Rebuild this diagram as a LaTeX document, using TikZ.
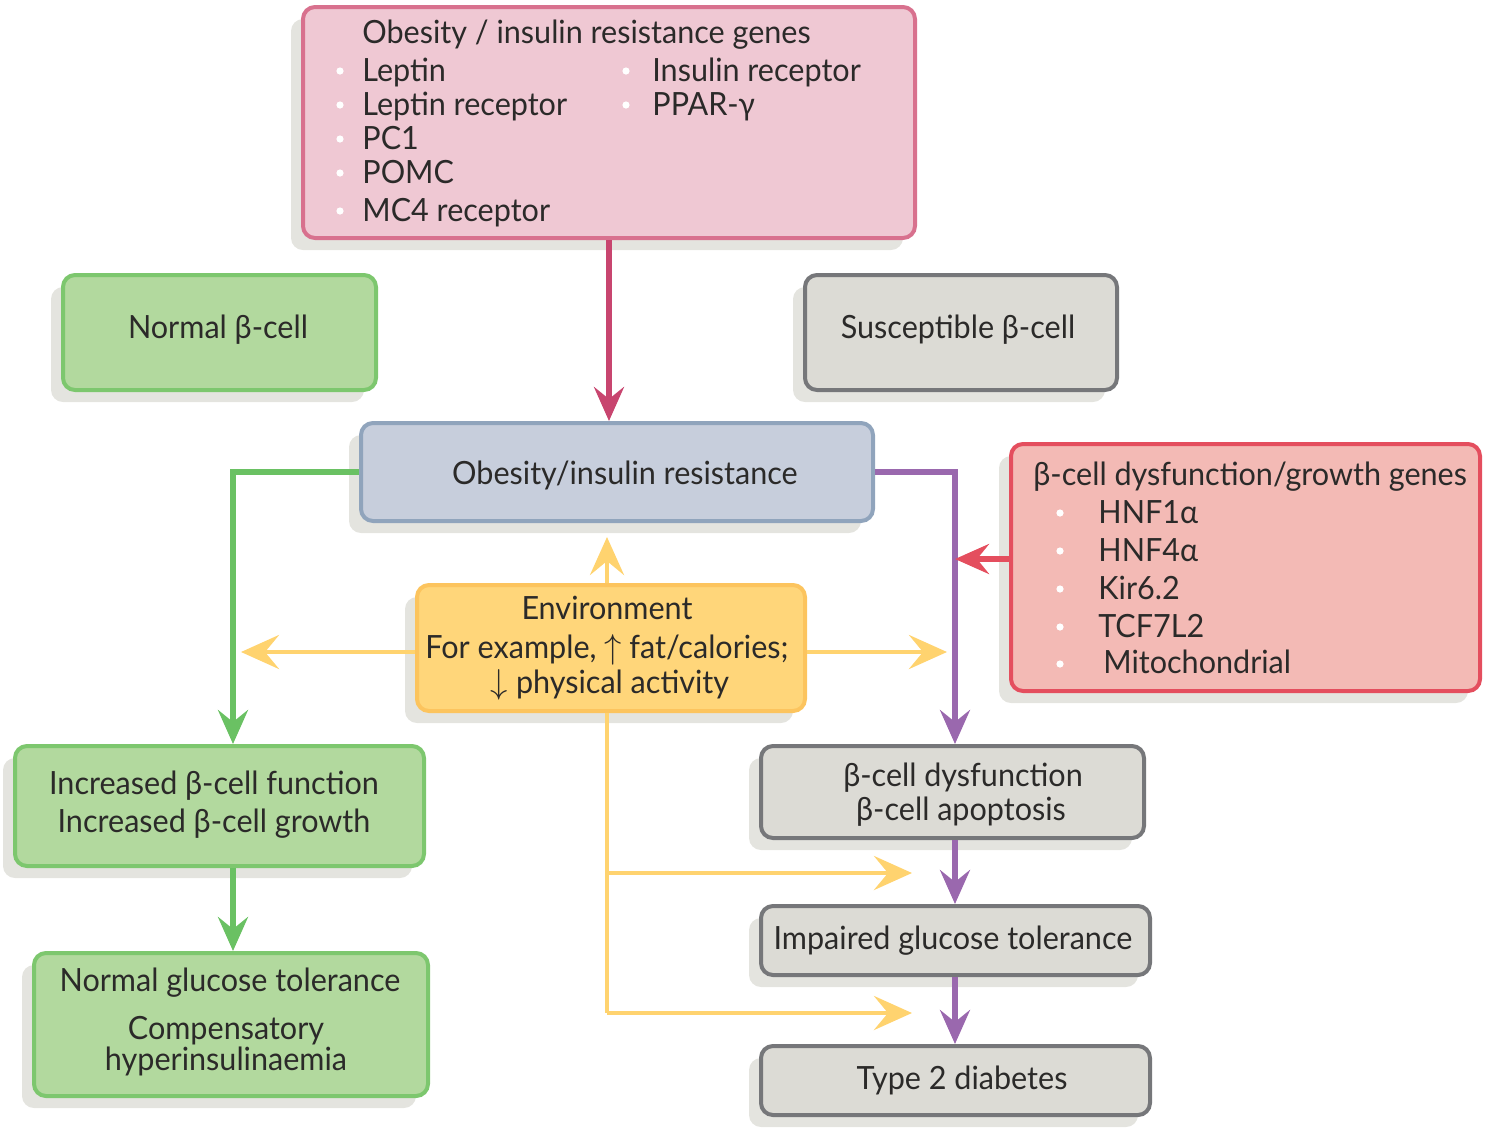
\documentclass[tikz,border=0pt]{standalone}
\usepackage{fontspec}
\setmainfont{Lato}[FakeStretch=0.955]
\usetikzlibrary{arrows.meta,shadows,fit}
\definecolor{txtc}{HTML}{2B2A29}
\definecolor{shadowc}{HTML}{E4E4DF}
\definecolor{pinkf}{HTML}{EFC8D3}\definecolor{pinkd}{HTML}{D8718E}\definecolor{pinka}{HTML}{C8456F}
\definecolor{greenf}{HTML}{B2D99E}\definecolor{greend}{HTML}{7DC76E}\definecolor{greena}{HTML}{6AC163}
\definecolor{greyf}{HTML}{DCDBD5}\definecolor{greyd}{HTML}{76777A}
\definecolor{bluef}{HTML}{C7CEDC}\definecolor{blued}{HTML}{90A4BC}
\definecolor{redf}{HTML}{F3BAB5}\definecolor{redd}{HTML}{E44E5E}
\definecolor{yelf}{HTML}{FFD67A}\definecolor{yeld}{HTML}{FCC45E}\definecolor{yela}{HTML}{FFD36F}
\definecolor{purpa}{HTML}{9A68AE}
\begin{document}
\begin{tikzpicture}[x=0.5pt,y=-0.5pt,font=\fontsize{16}{19}\selectfont,text=txtc,
  box/.style={rounded corners=6pt,line width=2pt,inner sep=0pt,
    drop shadow={shadow xshift=-6pt,shadow yshift=-6pt,fill=shadowc,opacity=1}},
  pinkbox/.style={box,fill=pinkf,draw=pinkd},
  greenbox/.style={box,fill=greenf,draw=greend},
  greybox/.style={box,fill=greyf,draw=greyd},
  bluebox/.style={box,fill=bluef,draw=blued},
  redbox/.style={box,fill=redf,draw=redd},
  yelbox/.style={box,fill=yelf,draw=yeld},
  con/.style={line width=2.6pt,-{Stealth[length=17pt,width=15pt,inset=6pt]}},
  pcon/.style={con,draw=pinka},
  gcon/.style={con,draw=greena},
  vcon/.style={con,draw=purpa},
  rcon/.style={con,draw=redd},
  ycon/.style={line width=2.4pt,draw=yela,-{Stealth[length=19pt,width=17pt,inset=7pt]}},
  yline/.style={line width=2.4pt,draw=yela},
  lt/.style={anchor=base west,inner sep=0pt},
  ct/.style={anchor=base,inner sep=0pt},
  bul/.style={fill=white}]
\useasboundingbox (0,0) rectangle (1490,1131);

% boxes
\node[pinkbox, fit={(303,7) (915,238)}] (genes) {};
\node[greenbox, fit={(63,275) (376,390)}] (normal) {};
\node[greybox, fit={(805,275) (1117,390)}] (susc) {};
\node[bluebox, fit={(361,423) (873,521)}] (obes) {};
\node[redbox, fit={(1011,444) (1480,691)}] (bgenes) {};
\node[yelbox, fit={(417,585) (805,711)}] (env) {};
\node[greenbox, fit={(15,746) (424,866)}] (incr) {};
\node[greenbox, fit={(34,953) (428,1096)}] (ngt) {};
\node[greybox, fit={(761,746) (1144,838)}] (dysf) {};
\node[greybox, fit={(761,906) (1150,975)}] (igt) {};
\node[greybox, fit={(761,1046) (1150,1115)}] (t2d) {};

% texts of top box
\node[lt] (g0) at (362,43) {Obesity / insulin resistance genes};
\node[lt] (g1) at (362,81) {Leptin};
\node[lt] (g2) at (362,115) {Leptin receptor};
\node[lt] (g3) at (362,149) {PC1};
\node[lt] (g4) at (362,183) {POMC};
\node[lt] (g5) at (362,221) {MC4 receptor};
\node[lt] (g6) at (652,81) {Insulin receptor};
\node[lt] (g7) at (652,115) {PPAR-γ};
\foreach \yy in {71,105,139,173,211} \fill[bul] (340,\yy) circle (1.8pt);
\foreach \yy in {71,105} \fill[bul] (626,\yy) circle (1.8pt);

% texts of red box
\node[lt] (r0) at (1033,485) {β-cell dysfunction/growth genes};
\node[lt] (r1) at (1098,523) {HNF1α};
\node[lt] (r2) at (1098,561) {HNF4α};
\node[lt] (r3) at (1098,599) {Kir6.2};
\node[lt] (r4) at (1098,637) {TCF7L2};
\node[lt] (r5) at (1103,673) {Mitochondrial};
\foreach \yy in {513,551,589,627,664} \fill[bul] (1060,\yy) circle (1.8pt);

% single texts
\node[ct] (normalt) at (218,338) {Normal β-cell};
\node[ct] (susct) at (958,338) {Susceptible β-cell};
\node[ct] (obest) at (625,484) {Obesity/insulin resistance};
\node[ct] (envt1) at (607,619) {Environment};
\node[ct] (envt2) at (607,658) {For example, $\uparrow$ fat/calories;};
\node[ct] (envt3) at (610,693) {$\downarrow$ physical activity};
\node[ct] (incrt1) at (214,794) {Increased β-cell function};
\node[ct] (incrt2) at (214,832) {Increased β-cell growth};
\node[ct] (ngtt1) at (230,991) {Normal glucose tolerance};
\node[ct] (ngtt2) at (226,1039) {Compensatory};
\node[ct] (ngtt3) at (226,1070) {hyperinsulinaemia};
\node[ct] (dysft1) at (963,786) {β-cell dysfunction};
\node[ct] (dysft2) at (961,820) {β-cell apoptosis};
\node[ct] (igtt) at (953,949) {Impaired glucose tolerance};
\node[ct] (t2dt) at (962,1089) {Type 2 diabetes};

% helper coordinates
\coordinate (gx) at (233,0);
\coordinate (px) at (955,0);
\coordinate (yx) at (607,0);
\coordinate (ry) at (0,559);
\coordinate (yy) at (0,652);
\coordinate (b1) at (607,873);
\coordinate (b2) at (607,1013);
\coordinate (e1) at (912,873);
\coordinate (e2) at (912,1013);

% connectors
\draw[pcon] (genes.south) -- (genes.south |- obes.north);
\draw[gcon] (obes.west) -- (gx |- obes.west) -- (gx |- incr.north);
\draw[gcon] (gx |- incr.south) -- (gx |- ngt.north);
\draw[vcon] (obes.east) -- (px |- obes.east) -- (px |- dysf.north);
\draw[vcon] (px |- dysf.south) -- (px |- igt.north);
\draw[vcon] (px |- igt.south) -- (px |- t2d.north);
\draw[rcon] (ry -| bgenes.west) -- (ry -| px);
\draw[ycon,shorten >=7pt] (yx |- env.north) -- (yx |- obes.south);
\draw[ycon,shorten >=4pt] (yy -| env.west) -- (yy -| gx);
\draw[ycon,shorten >=4pt] (yy -| env.east) -- (yy -| px);
\draw[yline] (yx |- env.south) -- (b2);
\draw[ycon] (b1) -- (e1);
\draw[ycon] (b2) -- (e2);
\end{tikzpicture}
\end{document}
